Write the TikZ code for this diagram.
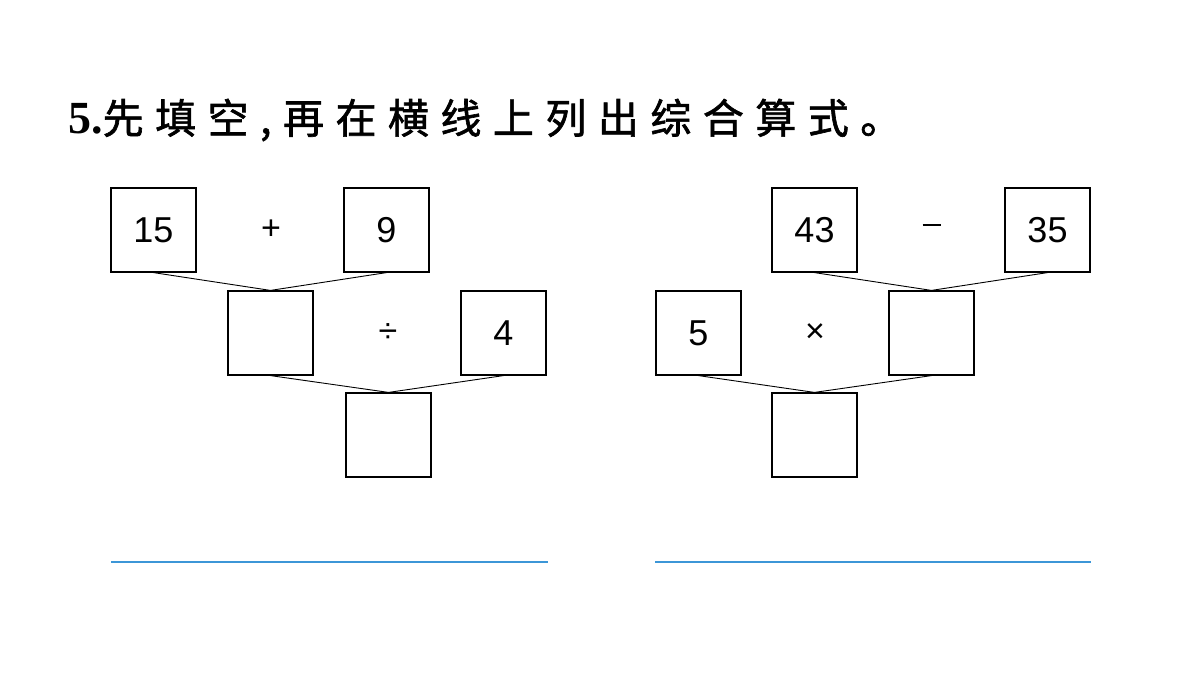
\documentclass[tikz,border=0pt]{standalone}
\usepackage{fontspec}
\setmainfont{Liberation Sans}
\newfontfamily\cjk[LetterSpace=28,FakeBold=1.5]{Noto Sans CJK SC}
\newfontfamily\ser{Liberation Serif}
\begin{document}
\begin{tikzpicture}[x=1pt,y=-1pt,
 bx/.style={draw,line width=1.2pt,minimum width=85pt,minimum height=84pt,inner sep=0,font=\fontsize{36}{40}\selectfont},
 op/.style={font=\fontsize{34}{40}\selectfont},
 ln/.style={line width=0.9pt}]
\useasboundingbox (0,0) rectangle (1200,675);
\node[anchor=west,inner sep=0] (t) at (68,120) {{\fontsize{46}{50}\selectfont\ser\bfseries 5.}{\fontsize{41}{46}\selectfont\cjk 先填空,再在横线上列出综合算式。}};
% left
\node[bx] (a1) at (153.5,230) {15};
\node[op] (p1) at (271,230) {+};
\node[bx] (a2) at (386.5,230) {9};
\node[bx] (b1) at (270.5,333) {};
\node[op] (p2) at (388,333) {÷};
\node[bx] (b2) at (503.5,333) {4};
\node[bx] (c1) at (388.5,435) {};
\draw[ln] (a1.south) -- (b1.north) -- (a2.south);
\draw[ln] (b1.south) -- (c1.north) -- (b2.south);
% right
\node[bx] (d1) at (814.5,230) {43};
\node[op] (q1) at (932,230) {\rule[0.3em]{0.55em}{1.3pt}};
\node[bx] (d2) at (1047.5,230) {35};
\node[bx] (e1) at (698.5,333) {5};
\node[op] (q2) at (815,333) {×};
\node[bx] (e2) at (931.5,333) {};
\node[bx] (f1) at (814.5,435) {};
\draw[ln] (d1.south) -- (e2.north) -- (d2.south);
\draw[ln] (e1.south) -- (f1.north) -- (e2.south);
% answer lines
\coordinate (l1) at (111,562); \coordinate (l2) at (548,562);
\coordinate (r1) at (655,562); \coordinate (r2) at (1091,562);
\draw[line width=1.2pt,color={rgb,255:red,60;green,150;blue,215}] (l1) -- (l2);
\draw[line width=1.2pt,color={rgb,255:red,60;green,150;blue,215}] (r1) -- (r2);
\end{tikzpicture}
\end{document}
